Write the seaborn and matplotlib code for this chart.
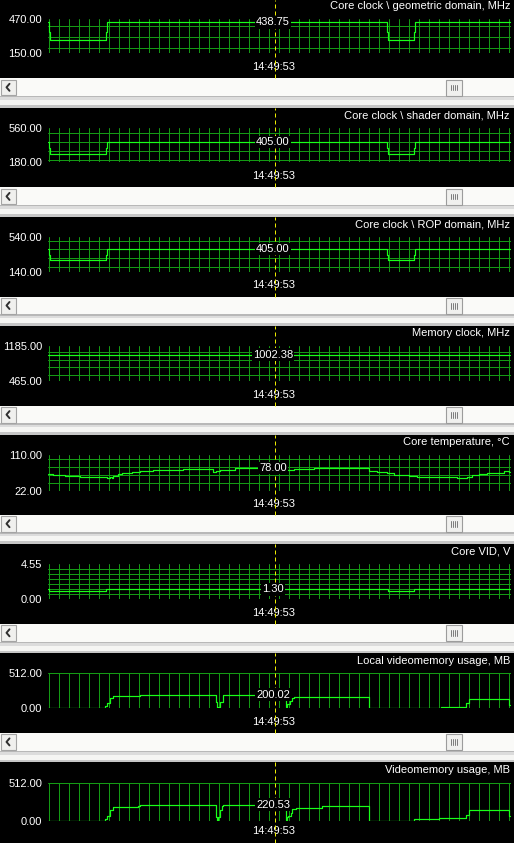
import matplotlib
matplotlib.use("Agg")
import matplotlib.pyplot as plt
import seaborn as sns
import numpy as np
from matplotlib.patches import Rectangle

# ---- data (x = sample index, cursor at 227) ----
titles = [
    "Core clock \\ geometric domain, MHz",
    "Core clock \\ shader domain, MHz",
    "Core clock \\ ROP domain, MHz",
    "Memory clock, MHz",
    "Core temperature, °C",
    "Core VID, V",
    "Local videomemory usage, MB",
    "Videomemory usage, MB",
]
y_low = [150, 180, 140, 465, 22, 0, 0, 0]
y_high = [470, 560, 540, 1185, 110, 4.55, 512, 512]
cursor_text = ["438.75", "405.00", "405.00", "1002.38", "78.00", "1.30", "200.02", "220.53"]
cursor_value = [438.75, 405.0, 405.0, 1002.38, 78.0, 1.30, 200.02, 220.53]
cursor_sample = 227
time_label = "14:49:53"

clock_t = [0, 1, 2, 58, 59, 339, 340, 366, 367, 462]
geo_v = [440, 350, 270, 350, 438.75, 350, 270, 350, 438.75, 438.75]
shader_v = [405, 340, 270, 340, 405, 340, 270, 340, 405, 405]
rop_v = [405, 331, 275, 331, 405, 331, 275, 331, 405, 405]

mem_t = [0, 462]
mem_v = [1002.38, 1002.38]

temp_t = [0, 5, 17, 32, 59, 62, 64, 65, 70, 74, 84, 92, 105, 135, 165, 168, 172,
          187, 206, 239, 242, 246, 266, 321, 329, 339, 346, 361, 369, 409, 419,
          424, 431, 439, 456, 461, 462]
temp_v = [63.6, 61, 58, 55.5, 54, 56, 54, 58, 63, 66, 68.5, 70, 73, 75.8, 68, 71,
          72.7, 77.5, 78, 72, 74, 76, 78, 70, 67.7, 64.5, 61.2, 58, 55.6, 53, 57,
          59.5, 63, 66.8, 70, 67, 67]

vid_t = [0, 1, 58, 340, 366, 462]
vid_v = [1.30, 1.05, 1.30, 1.05, 1.30, 1.30]

local_t = [0, 57, 59, 62, 65, 92, 168, 169, 170, 172, 175, 176, 238, 239, 242,
           244, 246, 321, 366, 393, 418, 421, 461, 462]
local_v = [0, 39, 73, 146, 182, 200.02, 97, 0, 25, 97, 190, 200.02, 24, 58, 107,
           146, 171, 0, 8, 24, 73, 131, 49, 49]

total_t = [0, 57, 59, 62, 65, 90, 92, 168, 169, 170, 172, 174, 175, 238, 239, 240,
           243, 244, 248, 274, 321, 366, 391, 418, 421, 461, 462]
total_v = [0, 30, 70, 149, 194, 205, 220.53, 62, 0, 62, 149, 203, 220.53, 17, 61,
           70, 105, 158, 172, 198, 0, 26, 40, 84, 145, 70, 70]

series = [(clock_t, geo_v), (clock_t, shader_v), (clock_t, rop_v), (mem_t, mem_v),
          (temp_t, temp_v), (vid_t, vid_v), (local_t, local_v), (total_t, total_v)]

# ---- look ----
sns.set_theme(style="white")
plt.rcParams["font.family"] = ["Liberation Sans", "DejaVu Sans"]

W, H = 514, 843
PANEL = 109.1
plot_top = [19, 128, 237.3, 345.7, 455, 564.3, 673.3, 782.7]
plot_bot = [53, 162.3, 271.7, 381.3, 490.7, 599.3, 708.3, 821.3]
hgrid = [[200, 300, 400], [200, 300, 400, 500], [200, 300, 400, 500],
         [600, 750, 900, 1050], [40, 60, 80, 100],
         [0, 0.65, 1.3, 1.95, 2.6, 3.25, 3.9], [0, 512], [0, 512]]
GRID = "#149a14"
LINE = "#18ff18"
CURSOR = "#ecec00"
X_MAX = 463
PX = 0.72  # one pixel in points

fig = plt.figure(figsize=(W / 100, H / 100), dpi=100, facecolor="#f5f5f3")
chrome = fig.add_axes([0, 0, 1, 1], zorder=0)
chrome.set_xlim(0, W)
chrome.set_ylim(H, 0)
chrome.axis("off")


def to_fig(x0, y0, x1, y1):
    return [x0 / W, 1 - y1 / H, (x1 - x0) / W, (y1 - y0) / H]


for k in range(8):
    o = k * PANEL
    top = 0 if k == 0 else o - 1.5
    bot = H if k == 7 else o + 78.3
    chrome.add_patch(Rectangle((0, top), W, bot - top, color="black", lw=0))
    chrome.text(510, o + 6, titles[k], ha="right", va="center", color="white", fontsize=8)
    chrome.text(274, o + 67.3, time_label, ha="center", va="center", color="white", fontsize=8)

    if k < 7:
        # scrollbar strip under the graph
        sb_top, sb_bot = o + 78.3, o + 96
        next_top = (k + 1) * PANEL - 1.5
        chrome.add_patch(Rectangle((0, sb_top), W, sb_bot - sb_top, color="#fafaf8", lw=0))
        chrome.add_patch(Rectangle((0, sb_bot), W, 1.3, color="#b8b8b8", lw=0))
        chrome.add_patch(Rectangle((0, sb_bot + 1.3), W, 2.7, color="#dcdcdc", lw=0))
        chrome.add_patch(Rectangle((0, o + 105), W, next_top - (o + 105), color="#c6c6c6", lw=0))
        chrome.add_patch(Rectangle((0.5, sb_top + 1.5), 15, 15.5, fc="#f0f0ee", ec="#a4a4a4", lw=0.8))
        chrome.plot([9.5, 6.5, 9.5], [sb_top + 5.5, sb_top + 9, sb_top + 12.5], color="#303030", lw=1.4)
        chrome.add_patch(Rectangle((446, sb_top + 1.5), 16, 16, fc="#f0f0ee", ec="#9c9c9c", lw=0.8))
        for xx in [451, 453, 455, 457]:
            chrome.plot([xx, xx], [sb_top + 6.5, sb_top + 12], color="#7c7c7c", lw=0.7)

    lo, hi = y_low[k], y_high[k]
    ax = fig.add_axes(to_fig(48, plot_top[k], 511, plot_bot[k]), zorder=1)
    ax.set_facecolor("none")
    ax.set_xlim(0, X_MAX)
    ax.set_ylim(lo, hi)
    for s in ax.spines.values():
        s.set_visible(False)
    ax.set_xticks([])
    ax.set_yticks([lo, hi])
    ax.set_yticklabels([f"{lo:.2f}", f"{hi:.2f}"])
    ax.tick_params(axis="y", length=0, pad=4.3, labelcolor="white", labelsize=8)

    for gx in np.arange(1.3, X_MAX, 10):
        ax.axvline(gx, color=GRID, lw=PX, snap=True, zorder=1)
    for gy in hgrid[k]:
        ax.axhline(gy, color=GRID, lw=PX, snap=True, zorder=1)

    t, v = series[k]
    sns.lineplot(x=t, y=v, ax=ax, color=LINE, lw=PX * 1.2, drawstyle="steps-post",
                 estimator=None, legend=False, snap=True, zorder=3)
    ax.set_xlabel("")
    ax.set_ylabel("")

    # dashed cursor over the whole black panel
    span = plot_bot[k] - plot_top[k]
    ymin = -(bot - plot_bot[k]) / span
    ymax = 1 + (plot_top[k] - top) / span
    ax.axvline(cursor_sample, ymin=ymin, ymax=ymax, clip_on=False, color=CURSOR,
               lw=PX, ls=(0, (4, 3)), snap=True, zorder=4)
    ax.text(cursor_sample - 2, cursor_value[k], cursor_text[k], ha="center", va="center",
            color="white", fontsize=8, zorder=5,
            bbox=dict(boxstyle="square,pad=0.12", fc="black", ec="none"))

fig.savefig("out.png", dpi=100, facecolor=fig.get_facecolor())
